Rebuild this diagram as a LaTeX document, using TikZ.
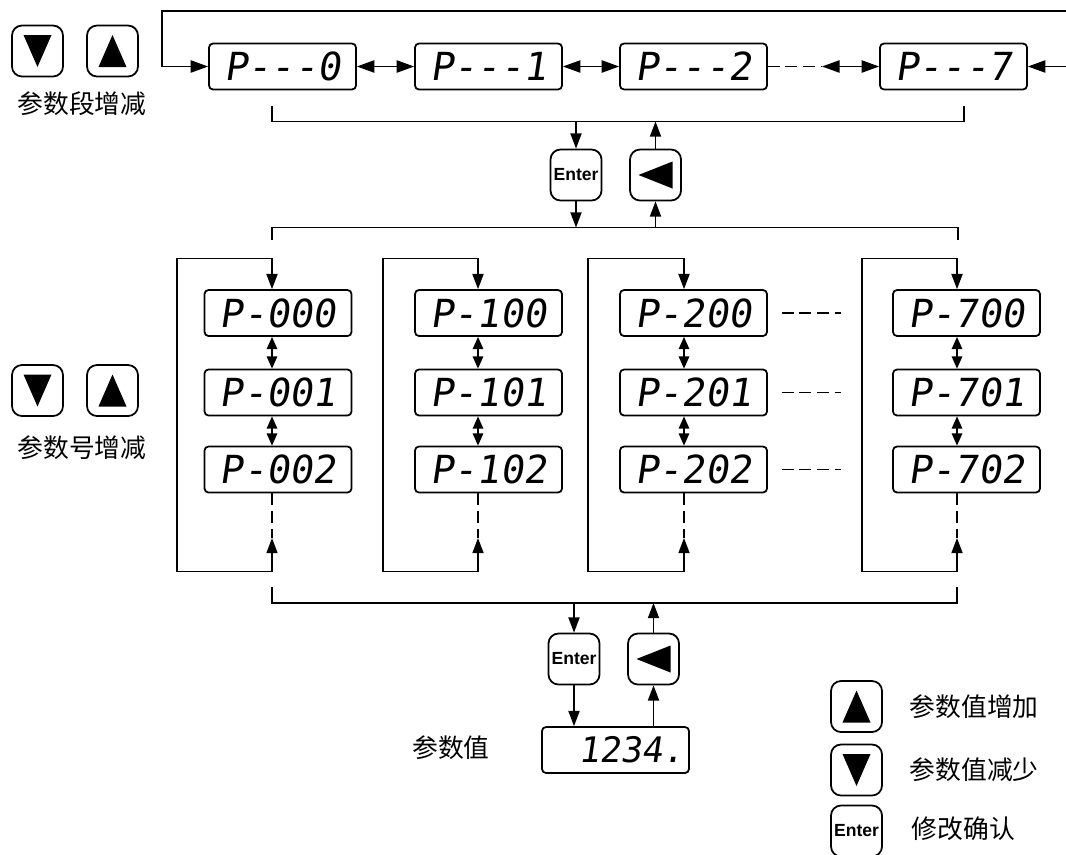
\documentclass[tikz,border=0pt]{standalone}
\usepackage{fontspec}
\setmainfont{Liberation Sans}
\newfontfamily\cjk{Noto Sans CJK SC}
\newfontfamily\segfont[FakeSlant=0.15]{DejaVu Sans Mono}
\usetikzlibrary{arrows.meta, calc}

\tikzset{
  disp/.style={draw, line width=1.5pt, rounded corners=0.12cm, minimum width=4.41cm,
    minimum height=1.38cm, inner sep=0pt, font=\segfont\fontsize{33}{33}\selectfont},
  btn/.style={draw, line width=1.5pt, rounded corners=0.3cm, minimum width=1.53cm,
    minimum height=1.53cm, inner sep=0pt, font=\bfseries\fontsize{15}{15}\selectfont},
  lbl/.style={font=\cjk\fontsize{22}{22}\selectfont},
  arr/.style={-{Triangle[length=13pt, width=9.5pt]}},
  dbl/.style={{Triangle[length=13pt, width=9.5pt]}-{Triangle[length=13pt, width=9.5pt]}},
  smalldbl/.style={{Triangle[length=10.5pt, width=9pt]}-{Triangle[length=10.5pt, width=9pt]}},
  bigdbl/.style={{Triangle[length=15pt, width=10.5pt]}-{Triangle[length=15pt, width=10.5pt]}},
  dots/.style={dash pattern=on 10pt off 5pt},
  pics/tridown/.style={code={\fill (-14,-16) -- (14,-16) -- (0,16) -- cycle;}},
  pics/triup/.style={code={\fill (-14,16) -- (14,16) -- (0,-16) -- cycle;}},
  pics/trileft/.style={code={\fill (17,-13.5) -- (17,13.5) -- (-17,0) -- cycle;}}
}

\begin{document}
\begin{tikzpicture}[x=0.03cm, y=-0.03cm, line width=1.3pt]
\useasboundingbox (0,0) rectangle (1066,854);

% --- teclas de segmento ---
\node[btn] (sd1) at (37.5,51) {};
\pic at (sd1) {tridown};
\node[btn] (su1) at (112.5,51) {};
\pic at (su1) {triup};
\node[lbl] (lseg) at (82,104) {参数段增减};

% --- fila de segmentos ---
\node[disp] (p0) at (282.5,66.5) {P---0};
\node[disp] (p1) at (488.5,66.5) {P---1};
\node[disp] (p2) at (693.5,66.5) {P---2};
\node[disp] (p7) at (953.5,66.5) {P---7};
\draw[bigdbl] (p0) -- (p1);
\draw[bigdbl] (p1) -- (p2);
\coordinate (gap) at (822,66.5);
\draw[dots] (p2.east) -- (gap);
\draw[bigdbl] (gap) -- (p7.west);
\coordinate (loopL) at (162,11);
\coordinate (loopR) at (1068,11);
\draw[bigdbl] (p0.west) -| (loopL) -- (loopR) |- (p7.east);

% --- corchete superior ---
\coordinate (t1) at (272,106);
\coordinate (t2) at (964,106);
\coordinate (br1) at (0,121.5);
\draw (t1) -- (t1 |- br1) -| (t2);

% --- Enter / volver 1 ---
\node[btn] (ent1) at (576,175) {Enter};
\node[btn] (bk1) at (655.5,175) {};
\pic at (bk1) {trileft};
\coordinate (br2) at (0,227.5);
\draw[arr] (ent1.north |- br1) -- (ent1.north);
\draw[arr] (ent1.south) -- (ent1.south |- br2);
\draw[arr] (bk1.south |- br2) -- (bk1.south);
\draw[arr] (bk1.north) -- (bk1.north |- br1);
\coordinate (m1) at (272,240);
\coordinate (m2) at (958,240);
\draw (m1) -- (m1 |- br2) -| (m2);

% --- teclas de numero ---
\node[btn] (sd2) at (37.5,390.5) {};
\pic at (sd2) {tridown};
\node[btn] (su2) at (112.5,390.5) {};
\pic at (su2) {triup};
\node[lbl] (lnum) at (82,448) {参数号增减};

% --- columnas de parametros ---
\foreach \c/\lx/\ax/\bx in {0/177/272/278, 1/383/478/488.5, 2/588/684/693.5, 7/862/957/966.5} {
  \node[disp] (b\c0) at (\bx,313) {P-\c00};
  \node[disp] (b\c1) at (\bx,392.5) {P-\c01};
  \node[disp] (b\c2) at (\bx,469.5) {P-\c02};
  \coordinate (top\c) at (\ax,258.5);
  \coordinate (left\c) at (\lx,571.5);
  \coordinate (tip\c) at (\ax,538);
  \draw[dbl] (tip\c) |- (left\c) |- (top\c) -- (top\c |- b\c0.north);
  \draw[smalldbl] (b\c0.south -| top\c) -- (b\c1.north -| top\c);
  \draw[smalldbl] (b\c1.south -| top\c) -- (b\c2.north -| top\c);
  \draw[dots] (b\c2.south -| top\c) -- (tip\c);
}
\foreach \r in {0,1,2}
  \draw[dots] ($(b2\r.east)+(14,0)$) -- ++(59,0);

% --- corchete inferior ---
\coordinate (n1) at (272,587);
\coordinate (n2) at (957,587);
\coordinate (br3) at (0,603);
\draw (n1) -- (n1 |- br3) -| (n2);

% --- Enter / volver 2 ---
\node[btn] (ent2) at (574,659) {Enter};
\node[btn] (bk2) at (653.5,659) {};
\pic at (bk2) {trileft};
\node[disp, text width=4.1cm, align=right, font=\segfont\fontsize{30}{30}\selectfont]
  (val) at (615.5,750) {1234.};
\node[lbl] (lval) at (451,748) {参数值};
\draw[arr] (ent2.north |- br3) -- (ent2.north);
\draw[arr] (bk2.north) -- (bk2.north |- br3);
\draw[arr] (ent2.south) -- (ent2.south |- val.north);
\draw[arr] (bk2.south |- val.north) -- (bk2.south);

% --- leyenda ---
\node[btn] (kup) at (856.5,706.5) {};
\pic at (kup) {triup};
\node[lbl, anchor=west] (lup) at (905,706.5) {参数值增加};
\node[btn] (kdn) at (856.5,770) {};
\pic at (kdn) {tridown};
\node[lbl, anchor=west] (ldn) at (905,770) {参数值减少};
\node[btn] (kent) at (856.5,831) {Enter};
\node[lbl, anchor=west] (lent) at (907,829) {修改确认};

\end{tikzpicture}
\end{document}
